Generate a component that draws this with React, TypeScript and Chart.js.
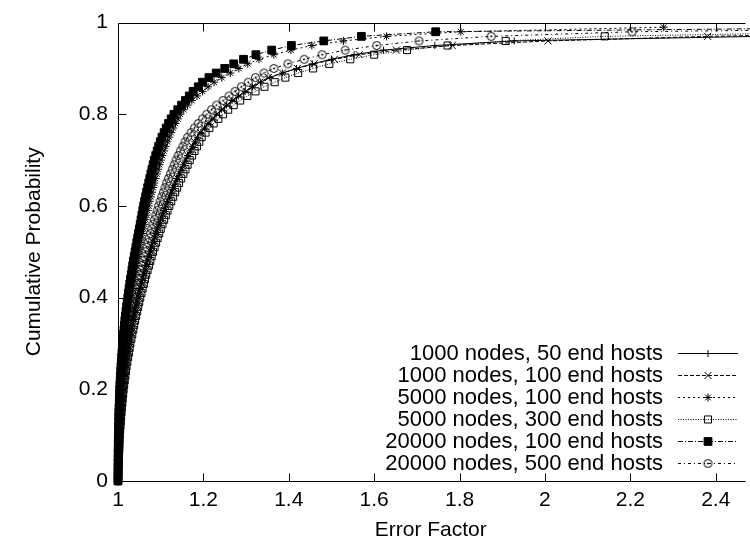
import React, { useEffect, useRef } from 'react';
import { Chart, registerables } from 'chart.js';
import { drawPoint } from 'chart.js/helpers';

Chart.register(...registerables);

// Cumulative probability levels (y values shared by all series)
const LEVELS = [
  0.00, 0.01, 0.02, 0.03, 0.04, 0.05, 0.06, 0.07, 0.08, 0.09,
  0.10, 0.11, 0.12, 0.13, 0.14, 0.15, 0.16, 0.17, 0.18, 0.19,
  0.20, 0.21, 0.22, 0.23, 0.24, 0.25, 0.26, 0.27, 0.28, 0.29,
  0.30, 0.31, 0.32, 0.33, 0.34, 0.35, 0.36, 0.37, 0.38, 0.39,
  0.40, 0.41, 0.42, 0.43, 0.44, 0.45, 0.46, 0.47, 0.48, 0.49,
  0.50, 0.51, 0.52, 0.53, 0.54, 0.55, 0.56, 0.57, 0.58, 0.59,
  0.60, 0.61, 0.62, 0.63, 0.64, 0.65, 0.66, 0.67, 0.68, 0.69,
  0.70, 0.71, 0.72, 0.73, 0.74, 0.75, 0.76, 0.77, 0.78, 0.79,
  0.80, 0.81, 0.82, 0.83, 0.84, 0.85, 0.86, 0.87, 0.88, 0.89,
  0.90, 0.91, 0.92, 0.93, 0.94, 0.95, 0.96, 0.97, 0.98, 0.99,
];

const X_TICKS = [1, 1.2, 1.4, 1.6, 1.8, 2, 2.2, 2.4];
const Y_TICKS = [0, 0.2, 0.4, 0.6, 0.8, 1];
const X_MIN = 1;
const X_MAX = 2.465;
const Y_MIN = 0;
const Y_MAX = 1;

const SERIES_LABELS = [
  '1000 nodes, 50 end hosts',
  '1000 nodes, 100 end hosts',
  '5000 nodes, 100 end hosts',
  '5000 nodes, 300 end hosts',
  '20000 nodes, 100 end hosts',
  '20000 nodes, 500 end hosts',
];

// Error factor (x) at each cumulative level
const N1000_H50 = [
  1.0000, 1.0003, 1.0006, 1.0009, 1.0012, 1.0015, 1.0019, 1.0023, 1.0027, 1.0031,
  1.0035, 1.0042, 1.0048, 1.0055, 1.0061, 1.0068, 1.0077, 1.0087, 1.0096, 1.0106,
  1.0115, 1.0128, 1.0140, 1.0153, 1.0165, 1.0178, 1.0194, 1.0210, 1.0226, 1.0242,
  1.0258, 1.0277, 1.0297, 1.0316, 1.0336, 1.0355, 1.0378, 1.0400, 1.0423, 1.0445,
  1.0468, 1.0494, 1.0521, 1.0547, 1.0574, 1.0600, 1.0630, 1.0660, 1.0690, 1.0720,
  1.0750, 1.0784, 1.0817, 1.0851, 1.0884, 1.0918, 1.0955, 1.0993, 1.1030, 1.1068,
  1.1105, 1.1148, 1.1191, 1.1234, 1.1277, 1.1320, 1.1370, 1.1420, 1.1470, 1.1520,
  1.1570, 1.1628, 1.1686, 1.1744, 1.1802, 1.1860, 1.1940, 1.2025, 1.2110, 1.2200,
  1.2300, 1.2420, 1.2540, 1.2670, 1.2820, 1.2980, 1.3150, 1.3340, 1.3560, 1.3850,
  1.4180, 1.4550, 1.5000, 1.5530, 1.6220, 1.7420, 1.9280, 2.5000, 3.3000, 4.6000,
];
const N1000_H100 = [
  1.0000, 1.0003, 1.0007, 1.0011, 1.0014, 1.0018, 1.0022, 1.0026, 1.0030, 1.0034,
  1.0038, 1.0045, 1.0051, 1.0058, 1.0065, 1.0072, 1.0081, 1.0091, 1.0100, 1.0110,
  1.0120, 1.0133, 1.0146, 1.0159, 1.0172, 1.0185, 1.0201, 1.0217, 1.0233, 1.0249,
  1.0265, 1.0285, 1.0305, 1.0325, 1.0345, 1.0365, 1.0388, 1.0411, 1.0434, 1.0457,
  1.0480, 1.0507, 1.0534, 1.0561, 1.0588, 1.0615, 1.0646, 1.0677, 1.0708, 1.0739,
  1.0770, 1.0804, 1.0838, 1.0872, 1.0906, 1.0940, 1.0978, 1.1016, 1.1054, 1.1092,
  1.1130, 1.1173, 1.1216, 1.1259, 1.1302, 1.1345, 1.1393, 1.1441, 1.1489, 1.1537,
  1.1585, 1.1638, 1.1691, 1.1744, 1.1797, 1.1850, 1.1935, 1.2025, 1.2120, 1.2215,
  1.2320, 1.2440, 1.2560, 1.2690, 1.2840, 1.3000, 1.3150, 1.3320, 1.3520, 1.3850,
  1.4200, 1.4590, 1.5070, 1.5650, 1.6520, 1.7830, 2.0070, 2.3810, 3.0000, 4.0000,
];
const N5000_H100 = [
  1.0000, 1.0001, 1.0002, 1.0003, 1.0004, 1.0005, 1.0006, 1.0008, 1.0010, 1.0012,
  1.0014, 1.0017, 1.0020, 1.0023, 1.0027, 1.0031, 1.0036, 1.0041, 1.0047, 1.0053,
  1.0060, 1.0068, 1.0076, 1.0085, 1.0094, 1.0104, 1.0114, 1.0125, 1.0136, 1.0148,
  1.0160, 1.0173, 1.0186, 1.0200, 1.0214, 1.0228, 1.0243, 1.0258, 1.0274, 1.0290,
  1.0306, 1.0323, 1.0340, 1.0358, 1.0376, 1.0395, 1.0414, 1.0433, 1.0453, 1.0473,
  1.0493, 1.0514, 1.0535, 1.0557, 1.0579, 1.0601, 1.0624, 1.0647, 1.0671, 1.0695,
  1.0720, 1.0745, 1.0771, 1.0797, 1.0824, 1.0852, 1.0880, 1.0910, 1.0940, 1.0972,
  1.1005, 1.1040, 1.1077, 1.1116, 1.1157, 1.1200, 1.1246, 1.1295, 1.1347, 1.1402,
  1.1460, 1.1540, 1.1630, 1.1730, 1.1850, 1.1980, 1.2110, 1.2250, 1.2430, 1.2630,
  1.2830, 1.3040, 1.3300, 1.3650, 1.4050, 1.4540, 1.5280, 1.6290, 1.8030, 2.2780,
];
const N5000_H300 = [
  1.0000, 1.0004, 1.0008, 1.0012, 1.0016, 1.0020, 1.0024, 1.0028, 1.0032, 1.0036,
  1.0040, 1.0048, 1.0056, 1.0064, 1.0072, 1.0080, 1.0090, 1.0100, 1.0110, 1.0120,
  1.0130, 1.0144, 1.0158, 1.0172, 1.0186, 1.0200, 1.0218, 1.0236, 1.0254, 1.0272,
  1.0290, 1.0312, 1.0334, 1.0356, 1.0378, 1.0400, 1.0424, 1.0448, 1.0472, 1.0496,
  1.0520, 1.0548, 1.0576, 1.0604, 1.0632, 1.0660, 1.0692, 1.0724, 1.0756, 1.0788,
  1.0820, 1.0856, 1.0892, 1.0928, 1.0964, 1.1000, 1.1040, 1.1080, 1.1120, 1.1160,
  1.1200, 1.1246, 1.1292, 1.1338, 1.1384, 1.1430, 1.1480, 1.1530, 1.1580, 1.1630,
  1.1680, 1.1736, 1.1792, 1.1848, 1.1904, 1.1960, 1.2050, 1.2140, 1.2240, 1.2350,
  1.2460, 1.2580, 1.2710, 1.2860, 1.3030, 1.3220, 1.3430, 1.3670, 1.3920, 1.4220,
  1.4570, 1.4950, 1.5440, 1.6000, 1.6770, 1.7720, 1.9080, 2.1400, 2.7500, 3.6000,
];
const N20000_H100 = [
  1.0000, 1.0001, 1.0001, 1.0002, 1.0002, 1.0003, 1.0004, 1.0005, 1.0007, 1.0008,
  1.0010, 1.0012, 1.0014, 1.0016, 1.0018, 1.0020, 1.0025, 1.0030, 1.0034, 1.0037,
  1.0040, 1.0046, 1.0052, 1.0058, 1.0064, 1.0070, 1.0078, 1.0086, 1.0094, 1.0102,
  1.0110, 1.0120, 1.0130, 1.0140, 1.0150, 1.0160, 1.0173, 1.0187, 1.0201, 1.0215,
  1.0230, 1.0245, 1.0260, 1.0276, 1.0293, 1.0310, 1.0327, 1.0344, 1.0362, 1.0381,
  1.0400, 1.0420, 1.0440, 1.0460, 1.0480, 1.0500, 1.0520, 1.0540, 1.0560, 1.0580,
  1.0600, 1.0623, 1.0646, 1.0670, 1.0695, 1.0720, 1.0745, 1.0770, 1.0796, 1.0823,
  1.0850, 1.0884, 1.0918, 1.0952, 1.0990, 1.1030, 1.1080, 1.1130, 1.1185, 1.1245,
  1.1310, 1.1400, 1.1490, 1.1580, 1.1670, 1.1760, 1.1880, 1.1980, 1.2130, 1.2300,
  1.2500, 1.2710, 1.2940, 1.3230, 1.3600, 1.4060, 1.4820, 1.5700, 1.7440, 2.9000,
];
const N20000_H500 = [
  1.0000, 1.0002, 1.0004, 1.0006, 1.0008, 1.0010, 1.0014, 1.0018, 1.0022, 1.0026,
  1.0030, 1.0036, 1.0042, 1.0048, 1.0054, 1.0060, 1.0068, 1.0076, 1.0084, 1.0092,
  1.0100, 1.0110, 1.0120, 1.0130, 1.0140, 1.0150, 1.0162, 1.0174, 1.0186, 1.0198,
  1.0210, 1.0226, 1.0242, 1.0258, 1.0274, 1.0290, 1.0308, 1.0326, 1.0344, 1.0362,
  1.0380, 1.0403, 1.0426, 1.0450, 1.0475, 1.0500, 1.0528, 1.0556, 1.0584, 1.0612,
  1.0640, 1.0670, 1.0700, 1.0730, 1.0760, 1.0790, 1.0822, 1.0854, 1.0886, 1.0918,
  1.0950, 1.0988, 1.1026, 1.1064, 1.1102, 1.1140, 1.1184, 1.1228, 1.1272, 1.1316,
  1.1360, 1.1410, 1.1460, 1.1520, 1.1570, 1.1630, 1.1710, 1.1790, 1.1880, 1.1980,
  1.2080, 1.2190, 1.2310, 1.2460, 1.2600, 1.2740, 1.2890, 1.3050, 1.3220, 1.3420,
  1.3650, 1.3980, 1.4360, 1.4780, 1.5320, 1.6060, 1.7050, 1.8740, 2.2040, 3.1000,
];

const SERIES_VALUES = [N1000_H50, N1000_H100, N5000_H100, N5000_H300, N20000_H100, N20000_H500];

const FONT_FAMILY = '"Liberation Sans", Arial, Helvetica, sans-serif';

function makeCircleDot(): HTMLCanvasElement {
  const c = document.createElement('canvas');
  c.width = 11;
  c.height = 11;
  const g = c.getContext('2d')!;
  g.strokeStyle = '#000';
  g.lineWidth = 1;
  g.beginPath();
  g.arc(5.5, 5.5, 4, 0, Math.PI * 2);
  g.stroke();
  g.fillStyle = '#000';
  g.beginPath();
  g.arc(5.5, 5.5, 0.9, 0, Math.PI * 2);
  g.fill();
  return c;
}

const frameTicksPlugin = {
  id: 'frameTicks',
  afterDatasetsDraw(chart: any) {
    const { ctx, chartArea, scales } = chart;
    const { left, top, right, bottom } = chartArea;
    const L = Math.round(left) + 0.5;
    const T = Math.round(top) + 0.5;
    const B = Math.round(bottom) + 0.5;
    ctx.save();
    ctx.strokeStyle = '#000';
    ctx.lineWidth = 1;
    ctx.setLineDash([]);
    ctx.beginPath();
    ctx.moveTo(right + 2, T);
    ctx.lineTo(L, T);
    ctx.lineTo(L, B);
    ctx.lineTo(right + 2, B);
    const tickLen = 8;
    for (const t of scales.x.ticks) {
      const px = Math.round(scales.x.getPixelForValue(t.value)) + 0.5;
      ctx.moveTo(px, B);
      ctx.lineTo(px, B - tickLen);
      ctx.moveTo(px, T);
      ctx.lineTo(px, T + tickLen);
    }
    for (const t of scales.y.ticks) {
      const py = Math.round(scales.y.getPixelForValue(t.value)) + 0.5;
      ctx.moveTo(L, py);
      ctx.lineTo(L + tickLen, py);
    }
    ctx.stroke();
    ctx.restore();
  },
};

const keyPlugin = {
  id: 'gnuplotKey',
  afterDraw(chart: any) {
    const { ctx } = chart;
    const textRight = 663;
    const lineStart = 678;
    const lineEnd = 738;
    const firstRow = 353;
    const rowStep = 22;
    ctx.save();
    chart.data.datasets.forEach((ds: any, i: number) => {
      const y = firstRow + i * rowStep;
      ctx.fillStyle = '#000';
      ctx.font = `22px ${FONT_FAMILY}`;
      ctx.textAlign = 'right';
      ctx.textBaseline = 'middle';
      ctx.fillText(ds.label, textRight, y + 1);
      ctx.strokeStyle = '#000';
      ctx.lineWidth = ds.borderWidth;
      ctx.setLineDash(ds.borderDash || []);
      ctx.beginPath();
      ctx.moveTo(lineStart, y + 0.5);
      ctx.lineTo(lineEnd, y + 0.5);
      ctx.stroke();
      ctx.setLineDash([]);
      ctx.fillStyle = ds.pointBackgroundColor;
      ctx.strokeStyle = '#000';
      ctx.lineWidth = 1;
      drawPoint(ctx, {
        pointStyle: ds.pointStyle,
        rotation: 0,
        radius: ds.pointRadius,
        borderWidth: 1,
      }, (lineStart + lineEnd) / 2, y + 0.5);
    });
    ctx.restore();
  },
};

export default function App() {
  const canvasRef = useRef<HTMLCanvasElement | null>(null);

  useEffect(() => {
    if (!canvasRef.current) return;
    const circleDot = makeCircleDot();
    const styles = [
      { pointStyle: 'cross', pointRadius: 3.5, bg: 'transparent', dash: [] as number[] },
      { pointStyle: 'crossRot', pointRadius: 5, bg: 'transparent', dash: [4, 2] },
      { pointStyle: 'star', pointRadius: 4, bg: 'transparent', dash: [2, 3] },
      { pointStyle: 'rect', pointRadius: 5, bg: 'transparent', dash: [1, 1.5] },
      { pointStyle: 'rect', pointRadius: 5.5, bg: '#000', dash: [5, 2, 1, 2] },
      { pointStyle: circleDot as any, pointRadius: 4, bg: 'transparent', dash: [3, 3, 1, 3] },
    ];
    const datasets = SERIES_LABELS.map((label, i) => ({
      label,
      data: LEVELS.map((lv, j) => ({ x: SERIES_VALUES[i][j], y: lv })),
      showLine: true,
      borderColor: '#000',
      borderWidth: 1,
      borderDash: styles[i].dash,
      pointStyle: styles[i].pointStyle,
      pointRadius: styles[i].pointRadius,
      pointBorderWidth: 1,
      pointBorderColor: '#000',
      pointBackgroundColor: styles[i].bg,
      backgroundColor: styles[i].bg,
      clip: false,
      tension: 0,
    }));

    const tickFont = { family: FONT_FAMILY, size: 21 };
    const chart = new Chart(canvasRef.current, {
      type: 'scatter',
      data: { datasets },
      options: {
        animation: false,
        responsive: false,
        layout: { padding: { top: 15, right: 0, left: 0, bottom: 0 } },
        plugins: { legend: { display: false }, tooltip: { enabled: false } },
        scales: {
          x: {
            type: 'linear',
            min: X_MIN,
            max: X_MAX,
            afterBuildTicks: (s: any) => { s.ticks = X_TICKS.map((v) => ({ value: v })); },
            afterFit: (s: any) => { s.height = 64; },
            grid: { display: false, drawTicks: false },
            border: { display: false },
            ticks: {
              color: '#000',
              font: tickFont,
              padding: 7,
              autoSkip: false,
              maxRotation: 0,
              callback: (v: any) => String(v),
            },
            title: {
              display: true,
              text: 'Error Factor',
              color: '#000',
              font: tickFont,
              padding: { top: 0, bottom: 2 },
            },
          },
          y: {
            type: 'linear',
            min: Y_MIN,
            max: Y_MAX,
            afterBuildTicks: (s: any) => { s.ticks = Y_TICKS.map((v) => ({ value: v })); },
            afterFit: (s: any) => { s.width = 118; },
            grid: { display: false, drawTicks: false },
            border: { display: false },
            ticks: {
              color: '#000',
              font: tickFont,
              padding: 10,
              autoSkip: false,
              callback: (v: any) => String(v),
            },
            title: {
              display: true,
              text: 'Cumulative Probability',
              color: '#000',
              font: tickFont,
              padding: { top: 22, bottom: 0 },
            },
          },
        },
      },
      plugins: [frameTicksPlugin, keyPlugin],
    } as any);
    return () => chart.destroy();
  }, []);

  return (
    <div style={{ position: 'absolute', left: 0, top: 0, width: 750, height: 545, background: '#fff' }}>
      <canvas ref={canvasRef} width={750} height={545} style={{ display: 'block' }} />
    </div>
  );
}
